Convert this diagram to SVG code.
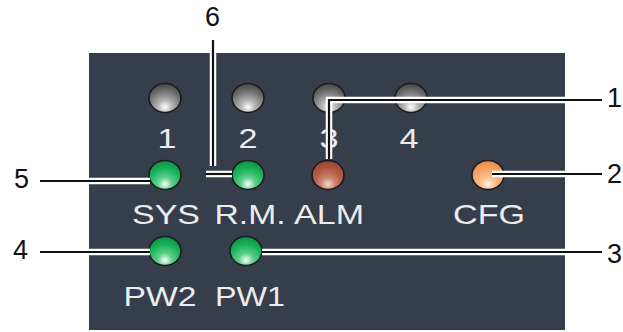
<svg xmlns="http://www.w3.org/2000/svg" width="623" height="332" viewBox="0 0 623 332">
  <defs>
    <radialGradient id="gGray" cx="0.5" cy="0.78" r="0.75" fx="0.5" fy="0.82">
      <stop offset="0" stop-color="#ffffff"/>
      <stop offset="0.3" stop-color="#b4b4b4"/>
      <stop offset="0.75" stop-color="#6a6a6a"/>
      <stop offset="1" stop-color="#4a4a4a"/>
    </radialGradient>
    <radialGradient id="gGreen" cx="0.5" cy="0.78" r="0.75" fx="0.5" fy="0.82">
      <stop offset="0" stop-color="#ffffff"/>
      <stop offset="0.3" stop-color="#5fcf8c"/>
      <stop offset="0.7" stop-color="#16b158"/>
      <stop offset="1" stop-color="#0c9446"/>
    </radialGradient>
    <radialGradient id="gRed" cx="0.5" cy="0.78" r="0.75" fx="0.5" fy="0.82">
      <stop offset="0" stop-color="#f4dcd4"/>
      <stop offset="0.3" stop-color="#c9836c"/>
      <stop offset="0.7" stop-color="#b0553e"/>
      <stop offset="1" stop-color="#9c4632"/>
    </radialGradient>
    <radialGradient id="gOrange" cx="0.5" cy="0.78" r="0.75" fx="0.5" fy="0.82">
      <stop offset="0" stop-color="#fff4ea"/>
      <stop offset="0.3" stop-color="#fbbf8e"/>
      <stop offset="0.7" stop-color="#f6a164"/>
      <stop offset="1" stop-color="#ea8a4c"/>
    </radialGradient>
  </defs>
  <style>
    .panel { fill: #373e4b; }
    .led { stroke: #1c1c1c; stroke-width: 1.6; }
    .lbl { fill: #ececec; font-family: "Liberation Sans", Arial, sans-serif; font-size: 28px; text-anchor: middle; }
    .num { fill: #111111; font-family: "Liberation Sans", Arial, sans-serif; font-size: 27px; }
    .halo { fill: none; stroke: #ffffff; stroke-width: 6.5; }
    .wire { fill: none; stroke: #111111; stroke-width: 2.2; }
  </style>

  <rect width="623" height="332" fill="#ffffff"/>

  <!-- front panel -->
  <rect class="panel" x="89" y="53" width="476" height="277"/>

  <!-- indicator LEDs -->
  <g id="led-1"><ellipse class="led" cx="165" cy="98" rx="16" ry="14.5" fill="url(#gGray)"/><text class="lbl" x="167" y="148" textLength="19" lengthAdjust="spacingAndGlyphs">1</text></g>
  <g id="led-2"><ellipse class="led" cx="248" cy="98" rx="16" ry="14.5" fill="url(#gGray)"/><text class="lbl" x="248" y="148" textLength="19" lengthAdjust="spacingAndGlyphs">2</text></g>
  <g id="led-3"><ellipse class="led" cx="329" cy="98" rx="16" ry="14.5" fill="url(#gGray)"/><text class="lbl" x="329" y="148" textLength="19" lengthAdjust="spacingAndGlyphs">3</text></g>
  <g id="led-4"><ellipse class="led" cx="411" cy="98" rx="16" ry="14.5" fill="url(#gGray)"/><text class="lbl" x="409" y="148" textLength="19" lengthAdjust="spacingAndGlyphs">4</text></g>

  <g id="led-sys"><ellipse class="led" cx="165" cy="175" rx="16" ry="14.5" fill="url(#gGreen)"/><text class="lbl" x="166" y="224" textLength="68" lengthAdjust="spacingAndGlyphs">SYS</text></g>
  <g id="led-rm"><ellipse class="led" cx="248" cy="175" rx="16" ry="14.5" fill="url(#gGreen)"/><text class="lbl" x="250" y="224" textLength="71" lengthAdjust="spacingAndGlyphs">R.M.</text></g>
  <g id="led-alm"><ellipse class="led" cx="328" cy="175" rx="16" ry="14.5" fill="url(#gRed)"/><text class="lbl" x="329" y="224" textLength="70" lengthAdjust="spacingAndGlyphs">ALM</text></g>
  <g id="led-cfg"><ellipse class="led" cx="488" cy="175" rx="16" ry="14.5" fill="url(#gOrange)"/><text class="lbl" x="489" y="224" textLength="72" lengthAdjust="spacingAndGlyphs">CFG</text></g>

  <g id="led-pw2"><ellipse class="led" cx="165" cy="251" rx="16" ry="14.5" fill="url(#gGreen)"/><text class="lbl" x="160" y="306" textLength="73" lengthAdjust="spacingAndGlyphs">PW2</text></g>
  <g id="led-pw1"><ellipse class="led" cx="246" cy="251" rx="16" ry="14.5" fill="url(#gGreen)"/><text class="lbl" x="250" y="306" textLength="70" lengthAdjust="spacingAndGlyphs">PW1</text></g>

  <!-- callout leaders: white halo under a black line -->
  <g id="connectors">
    <path class="halo" d="M602,100 H329 V159"/>
    <path class="halo" d="M492,174 H602"/>
    <path class="halo" d="M262,252 H602"/>
    <path class="halo" d="M40,181 H150"/>
    <path class="halo" d="M40,252 H150"/>
    <path class="halo" d="M213,40 V166"/>
    <path class="halo" d="M206,174 H232"/>

    <path class="wire" d="M602,100 H329 V159"/>
    <path class="wire" d="M492,174 H602"/>
    <path class="wire" d="M262,252 H602"/>
    <path class="wire" d="M40,181 H150"/>
    <path class="wire" d="M40,252 H150"/>
    <path class="wire" d="M213,40 V166"/>
    <path class="wire" d="M206,174 H232"/>
  </g>

  <!-- callout numbers -->
  <g id="callout-1"><text class="num" x="607" y="107">1</text></g>
  <g id="callout-2"><text class="num" x="607" y="183">2</text></g>
  <g id="callout-3"><text class="num" x="607" y="263">3</text></g>
  <g id="callout-4"><text class="num" x="13" y="259">4</text></g>
  <g id="callout-5"><text class="num" x="14" y="188">5</text></g>
  <g id="callout-6"><text class="num" x="205" y="26">6</text></g>
</svg>
